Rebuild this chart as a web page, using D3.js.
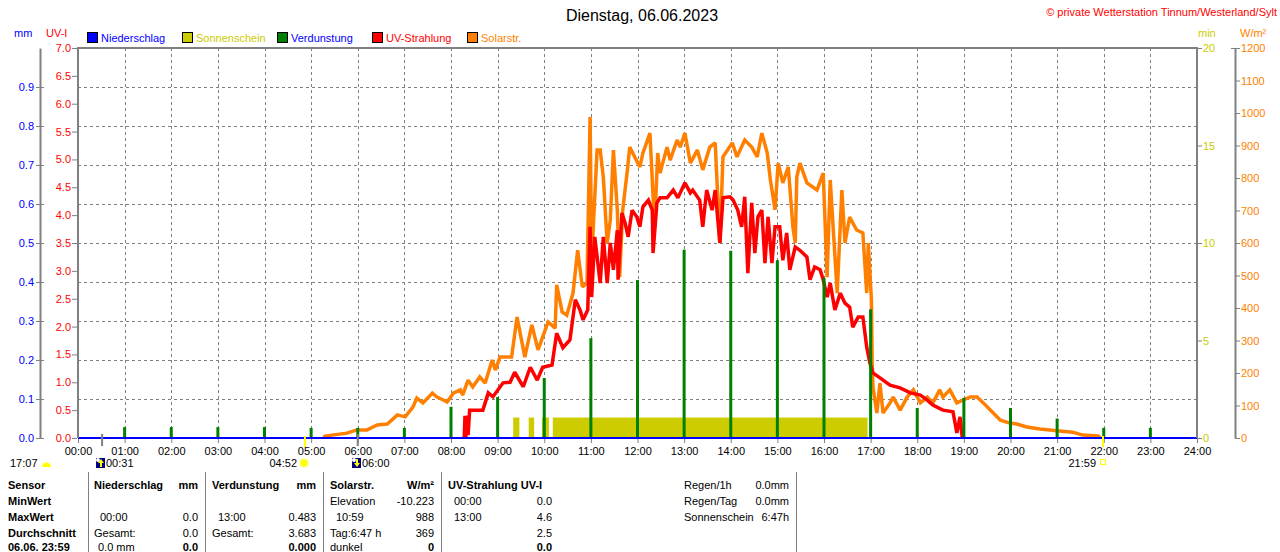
<!DOCTYPE html>
<html>
<head>
<meta charset="utf-8">
<script src="https://cdn.jsdelivr.net/npm/d3@7"></script>
<style>
  body { margin: 0; background: #fff; }
  svg text { font-family: "Liberation Sans", Arial, sans-serif; font-size: 11px; }
</style>
</head>
<body>
<div id="chart"></div>
<script>

// Stundenbeschriftung der x-Achse
const hourLabels = ["00:00","01:00","02:00","03:00","04:00","05:00","06:00","07:00","08:00",
  "09:00","10:00","11:00","12:00","13:00","14:00","15:00","16:00","17:00","18:00","19:00",
  "20:00","21:00","22:00","23:00","24:00"];

const mmTicks  = [0.0,0.1,0.2,0.3,0.4,0.5,0.6,0.7,0.8,0.9];
const uvTicks  = [0,0.5,1,1.5,2,2.5,3,3.5,4,4.5,5,5.5,6,6.5,7];
const minTicks = [0,5,10,15,20];
const solTicks = [0,100,200,300,400,500,600,700,800,900,1000,1100,1200];

// Niederschlag (mm) - ganzer Tag 0
const niedTime  = ["00:00","24:00"];
const niedValue = [0, 0];

// Sonnenschein (min) - Abschnitte mit Sonne
const sunStart = ["09:20","09:40","09:57","10:11"];
const sunEnd   = ["09:28","09:47","10:06","16:56"];
const sunValue = [1.05, 1.05, 1.05, 1.05];

// Verdunstung (mm) je Stunde
const verdTime  = ["01:00","02:00","03:00","04:00","05:00","06:00","07:00","08:00","09:00","10:00",
  "11:00","12:00","13:00","14:00","15:00","16:00","17:00","18:00","19:00","20:00","21:00","22:00","23:00"];
const verdValue = [0.028,0.028,0.028,0.028,0.026,0.026,0.026,0.080,0.105,0.154,
  0.256,0.405,0.483,0.480,0.456,0.410,0.330,0.077,0.103,0.077,0.050,0.026,0.026];

// UV-Strahlung (UV-I)
const uvTime = [
  "08:17","08:18","08:19","08:21","08:22","08:24","08:28","08:41","08:48","08:54",
  "09:07","09:16","09:22","09:33","09:42","09:51","09:58","10:10","10:16","10:24",
  "10:33","10:40","10:46","10:50","10:56","10:59","11:01","11:05","11:12","11:16",
  "11:21","11:25","11:29","11:34","11:35","11:40","11:44","11:48","11:53","11:59",
  "12:03","12:07","12:14","12:19","12:20","12:25","12:29","12:38","12:46","12:52",
  "13:01","13:08","13:11","13:20","13:24","13:29","13:36","13:40","13:46","13:50",
  "13:59","14:03","14:09","14:14","14:18","14:22","14:27","14:31","14:35","14:40",
  "14:44","14:48","14:53","14:57","15:03","15:07","15:12","15:16","15:23","15:29",
  "15:38","15:42","15:48","15:55","15:59","16:04","16:08","16:14","16:21","16:27",
  "16:33","16:37","16:44","16:50","16:55","16:59","17:03","17:12","17:25","17:38",
  "17:51","18:04","18:13","18:20","18:33","18:46","18:51","18:55","18:58"];
const uvValue = [
  0,0.4,0,0.4,0.05,0.5,0.5,0.5,0.81,0.74,
  0.99,1.0,1.18,0.92,1.27,1.04,1.27,1.31,1.88,1.62,
  1.76,2.48,2.30,2.12,2.30,3.79,2.53,3.61,2.78,3.61,
  2.78,3.50,3.02,3.73,2.84,4.04,3.86,3.61,4.09,3.97,
  3.79,4.15,4.27,4.09,3.32,4.22,4.31,4.31,4.45,4.31,
  4.58,4.40,4.45,4.27,3.79,4.45,4.09,4.45,3.50,4.31,
  4.33,4.27,4.09,3.79,4.33,2.96,4.22,3.32,3.97,4.09,
  3.14,3.97,3.14,3.79,3.79,3.19,3.68,3.02,3.43,3.37,
  3.25,2.84,3.07,3.02,2.84,2.53,2.78,2.30,2.60,2.42,
  2.35,1.99,2.17,2.17,1.63,1.35,1.17,1.08,0.95,0.90,
  0.81,0.77,0.68,0.59,0.50,0.47,0.09,0.38,0];

// Solarstrahlung (W/m²)
const solarTime = [
  "05:16","05:18","05:46","05:59","06:12","06:25","06:38","06:51","07:01","07:11",
  "07:16","07:24","07:36","07:42","07:50","07:55","08:03","08:12","08:15","08:22",
  "08:28","08:37","08:44","08:53","08:57","09:03","09:18","09:25","09:35","09:44",
  "09:52","09:58","10:05","10:14","10:16","10:23","10:29","10:37","10:43","10:49",
  "10:55","10:59","11:01","11:08","11:12","11:16","11:21","11:25","11:29","11:34",
  "11:37","11:41","11:47","11:50","12:03","12:07","12:16","12:22","12:26","12:29",
  "12:38","12:42","12:51","12:55","13:01","13:08","13:17","13:24","13:33","13:40",
  "13:46","13:50","14:02","14:08","14:18","14:27","14:34","14:40","14:47","14:51",
  "14:57","15:01","15:07","15:14","15:20","15:23","15:25","15:29","15:38","15:51",
  "15:59","16:04","16:08","16:17","16:23","16:27","16:33","16:42","16:50","16:55",
  "16:57","17:01","17:02","17:03","17:08","17:12","17:16","17:25","17:29","17:38",
  "17:47","17:55","18:04","18:13","18:20","18:29","18:33","18:42","18:51","18:59",
  "19:08","19:17","19:25","19:34","19:47","19:59","20:08","20:21","20:38","21:00",
  "21:20","21:33","21:53","21:56"];
const solarValue = [
  0,6,15,25,25,40,43,71,65,95,
  123,108,138,126,117,111,138,148,132,178,
  157,188,169,240,209,249,249,372,249,348,
  271,311,357,338,471,388,378,446,578,465,
  477,988,548,886,886,803,600,671,886,702,
  495,702,825,895,834,877,938,649,877,815,
  895,855,917,895,938,846,886,825,895,908,
  600,865,908,865,917,895,865,938,877,794,
  702,846,785,834,649,600,803,846,785,763,
  815,495,794,446,763,600,680,640,631,446,
  600,425,231,157,77,169,77,108,126,86,
  126,148,108,126,108,148,126,148,108,117,
  126,126,108,86,55,46,43,34,28,22,
  18,9,6,0];

// Sonnen- und Mondereignisse
const sunRise = "04:52", sunSet = "21:59";
const moonRise = "00:31", moonSet = "06:00";

// ---- Hilfsfunktion ----
const toMin = s => { const p = s.split(":"); return +p[0] * 60 + +p[1]; };

// ---- Zeichenfläche ----
const W = 1280, H = 552;
const plot = { left: 78, right: 1197, top: 48, bottom: 438 };

const svg = d3.select("#chart")
  .append("svg")
  .attr("width", W)
  .attr("height", H);

// Skalen
const x = d3.scaleLinear().domain([0, 1440]).range([plot.left, plot.right]);
const yMM  = d3.scaleLinear().domain([0, 1]).range([plot.bottom, plot.top]);
const yUV  = d3.scaleLinear().domain([0, 7]).range([plot.bottom, plot.top]);
const yMin = d3.scaleLinear().domain([0, 20]).range([plot.bottom, plot.top]);
const ySol = d3.scaleLinear().domain([0, 1200]).range([plot.bottom, plot.top]);

const grey = "#808080";

// Titel
svg.append("text")
  .attr("x", 642).attr("y", 21)
  .attr("text-anchor", "middle")
  .style("font-size", "16px")
  .text("Dienstag, 06.06.2023");

svg.append("text")
  .attr("x", 1277).attr("y", 16)
  .attr("text-anchor", "end")
  .attr("fill", "#FF0000")
  .text("\u00A9 private Wetterstation Tinnum/Westerland/Sylt");

// Achsentitel
svg.append("text").attr("x", 14).attr("y", 37).attr("fill", "#0000FF").text("mm");
svg.append("text").attr("x", 46).attr("y", 37).attr("fill", "#FF0000").text("UV-I");
svg.append("text").attr("x", 1198).attr("y", 37).attr("fill", "#CCCC00").text("min");
svg.append("text").attr("x", 1240).attr("y", 37).attr("fill", "#FF8000").text("W/m\u00B2");

// Legende
const legend = [
  { name: "Niederschlag", box: "#0000FF", txt: "#0000FF" },
  { name: "Sonnenschein", box: "#CCCC00", txt: "#CCCC00" },
  { name: "Verdunstung",  box: "#008000", txt: "#0000FF" },
  { name: "UV-Strahlung", box: "#FF0000", txt: "#FF0000" },
  { name: "Solarstr.",    box: "#FF8000", txt: "#FF8000" }
];
const lg = svg.append("g").selectAll("g").data(legend).join("g")
  .attr("transform", (d, i) => `translate(${87 + i * 95},32)`);
lg.append("rect").attr("x", 0.5).attr("y", 0.5).attr("width", 10).attr("height", 10)
  .attr("fill", d => d.box).attr("stroke", "#000");
lg.append("text").attr("x", 14).attr("y", 10).attr("fill", d => d.txt).text(d => d.name);

// Gitter
const grid = svg.append("g")
  .attr("stroke", grey).attr("stroke-dasharray", "3,3").attr("stroke-width", 1);
grid.selectAll("line.h").data(mmTicks.slice(1)).join("line").attr("class", "h")
  .attr("x1", plot.left).attr("x2", plot.right)
  .attr("y1", d => Math.round(yMM(d)) + 0.5).attr("y2", d => Math.round(yMM(d)) + 0.5);
grid.selectAll("line.v").data(hourLabels.slice(1, -1)).join("line").attr("class", "v")
  .attr("x1", d => Math.round(x(toMin(d))) + 0.5).attr("x2", d => Math.round(x(toMin(d))) + 0.5)
  .attr("y1", plot.top).attr("y2", plot.bottom);

// Sonnenschein
svg.append("g").selectAll("rect").data(sunStart).join("rect")
  .attr("x", d => x(toMin(d)))
  .attr("width", (d, i) => x(toMin(sunEnd[i])) - x(toMin(d)))
  .attr("y", (d, i) => yMin(sunValue[i]))
  .attr("height", (d, i) => yMin(0) - yMin(sunValue[i]))
  .attr("fill", "#CCCC00");

// Solarstrahlung
const solarData = solarTime.map((t, i) => ({ t: toMin(t), v: solarValue[i] }));
svg.append("path")
  .datum(solarData)
  .attr("d", d3.line().x(d => x(d.t)).y(d => ySol(d.v)))
  .attr("fill", "none")
  .attr("stroke", "#FF8000")
  .attr("stroke-width", 3.5)
  .attr("stroke-linejoin", "miter")
  .attr("stroke-miterlimit", 2);

// UV-Strahlung
const uvData = uvTime.map((t, i) => ({ t: toMin(t), v: uvValue[i] }));
svg.append("path")
  .datum(uvData)
  .attr("d", d3.line().x(d => x(d.t)).y(d => yUV(d.v)))
  .attr("fill", "none")
  .attr("stroke", "#FF0000")
  .attr("stroke-width", 3.5)
  .attr("stroke-linejoin", "miter")
  .attr("stroke-miterlimit", 2);

// Verdunstung
svg.append("g").selectAll("rect").data(verdTime).join("rect")
  .attr("x", d => x(toMin(d)) - 1.5)
  .attr("width", 3)
  .attr("y", (d, i) => yMM(verdValue[i]))
  .attr("height", (d, i) => yMM(0) - yMM(verdValue[i]))
  .attr("fill", "#008000");

// Niederschlag
const niedData = niedTime.map((t, i) => ({ t: toMin(t), v: niedValue[i] }));
svg.append("path")
  .datum(niedData)
  .attr("d", d3.line().x(d => x(d.t)).y(d => yMM(d.v)))
  .attr("fill", "none")
  .attr("stroke", "#0000FF")
  .attr("stroke-width", 2);

// Rahmen (oben, links, rechts)
svg.append("path")
  .attr("d", `M${plot.left},${plot.bottom}V${plot.top}H${plot.right}V${plot.bottom}`)
  .attr("fill", "none").attr("stroke", grey).attr("stroke-width", 2);

// Achsen
function styleAxis(g, color) {
  g.selectAll("text").attr("fill", color).style("font-size", "11px");
  g.selectAll(".tick line").attr("stroke", grey);
  g.select(".domain").attr("stroke", grey).attr("stroke-width", 2);
}

// mm-Achse
const mmAxis = svg.append("g")
  .attr("transform", "translate(40,0)")
  .call(d3.axisLeft(yMM).tickValues(mmTicks).tickFormat(d3.format(".1f"))
    .tickSize(4).tickSizeOuter(0).tickPadding(2));
styleAxis(mmAxis, "#0000FF");
mmAxis.selectAll(".tick line").attr("x1", 4);

// UV-Achse
const uvAxis = svg.append("g")
  .attr("transform", `translate(${plot.left - 1},0)`)
  .call(d3.axisLeft(yUV).tickValues(uvTicks).tickFormat(d3.format(".1f"))
    .tickSize(5).tickSizeOuter(0).tickPadding(1));
styleAxis(uvAxis, "#FF0000");
uvAxis.select(".domain").remove();

// min-Achse
const minAxis = svg.append("g")
  .attr("transform", `translate(${plot.right},0)`)
  .call(d3.axisRight(yMin).tickValues(minTicks).tickFormat(d3.format("d"))
    .tickSize(5).tickSizeOuter(0).tickPadding(1));
styleAxis(minAxis, "#CCCC00");
minAxis.select(".domain").remove();

// W/m²-Achse
const solAxis = svg.append("g")
  .attr("transform", "translate(1235,0)")
  .call(d3.axisRight(ySol).tickValues(solTicks).tickFormat(d3.format("d"))
    .tickSize(5).tickSizeOuter(0).tickPadding(1));
styleAxis(solAxis, "#FF8000");
solAxis.select(".tick:last-of-type line").attr("x1", -4);

// Zeitachse
const xAxis = svg.append("g")
  .attr("transform", `translate(0,${plot.bottom + 1})`)
  .call(d3.axisBottom(x).tickValues(hourLabels.map(toMin))
    .tickFormat((d, i) => hourLabels[i]).tickSize(4).tickSizeOuter(0).tickPadding(4));
styleAxis(xAxis, "#000");
xAxis.select(".domain").remove();

// Sonnen-/Mondmarken an der Zeitachse
svg.append("g").selectAll("line").data([moonRise, moonSet]).join("line")
  .attr("x1", d => x(toMin(d))).attr("x2", d => x(toMin(d)))
  .attr("y1", 434).attr("y2", 446)
  .attr("stroke", grey).attr("stroke-width", 2);
svg.append("g").selectAll("line").data([sunRise, sunSet]).join("line")
  .attr("x1", d => x(toMin(d))).attr("x2", d => x(toMin(d)))
  .attr("y1", 436).attr("y2", 447)
  .attr("stroke", "#FFFF00").attr("stroke-width", 2);

// Beschriftung unter der Zeitachse
const ev = svg.append("g");
ev.append("text").attr("x", 10).attr("y", 467).text("17:07");
ev.append("path").attr("d", "M42,467 A4.5,4.5 0 0 1 51,467 Z").attr("fill", "#FFFF00");

function moonIcon(px, up) {
  ev.append("rect").attr("x", px).attr("y", 458).attr("width", 9).attr("height", 10).attr("fill", "#000080");
  ev.append("circle").attr("cx", px + 2).attr("cy", 460).attr("r", 2).attr("fill", "#fff");
  ev.append("path")
    .attr("d", up ? `M${px + 5},459 l-3,4 h2 v4 h2 v-4 h2 Z` : `M${px + 5},467 l-3,-4 h2 v-4 h2 v4 h2 Z`)
    .attr("fill", "#FFFF00");
}
moonIcon(96, true);
ev.append("text").attr("x", 106).attr("y", 467).text(moonRise);

ev.append("text").attr("x", 297).attr("y", 467).attr("text-anchor", "end").text(sunRise);
ev.append("circle").attr("cx", 304).attr("cy", 463).attr("r", 4).attr("fill", "#FFFF00")
  .attr("stroke", "#FFFF80").attr("stroke-width", 2).attr("stroke-dasharray", "1,1");

moonIcon(352, false);
ev.append("text").attr("x", 362).attr("y", 467).text(moonSet);

ev.append("text").attr("x", 1096).attr("y", 467).attr("text-anchor", "end").text(sunSet);
ev.append("rect").attr("x", 1100.5).attr("y", 459.5).attr("width", 5).attr("height", 5)
  .attr("fill", "none").attr("stroke", "#FFFF00");

// ---- Tabelle ----
const table = svg.append("g");
const rowY = [489, 505, 521, 537, 551];

[88, 205, 323, 441, 796].forEach(px => {
  table.append("line").attr("x1", px + 0.5).attr("x2", px + 0.5)
    .attr("y1", 472).attr("y2", H).attr("stroke", grey);
});

const cells = [
  // [x, Zeile, Text, fett, Ausrichtung]
  [8, 0, "Sensor", true], [8, 1, "MinWert", true], [8, 2, "MaxWert", true],
  [8, 3, "Durchschnitt", true], [8, 4, "06.06. 23:59", true],

  [94, 0, "Niederschlag", true], [198, 0, "mm", true, "end"],
  [100, 2, "00:00"], [198, 2, "0.0", false, "end"],
  [94, 3, "Gesamt:"], [198, 3, "0.0", false, "end"],
  [98, 4, "0.0 mm"], [198, 4, "0.0", true, "end"],

  [212, 0, "Verdunstung", true], [316, 0, "mm", true, "end"],
  [218, 2, "13:00"], [316, 2, "0.483", false, "end"],
  [212, 3, "Gesamt:"], [316, 3, "3.683", false, "end"],
  [316, 4, "0.000", true, "end"],

  [330, 0, "Solarstr.", true], [434, 0, "W/m\u00B2", true, "end"],
  [330, 1, "Elevation"], [434, 1, "-10.223", false, "end"],
  [336, 2, "10:59"], [434, 2, "988", false, "end"],
  [330, 3, "Tag:6:47 h"], [434, 3, "369", false, "end"],
  [330, 4, "dunkel"], [434, 4, "0", true, "end"],

  [448, 0, "UV-Strahlung UV-I", true],
  [454, 1, "00:00"], [552, 1, "0.0", false, "end"],
  [454, 2, "13:00"], [552, 2, "4.6", false, "end"],
  [552, 3, "2.5", false, "end"],
  [552, 4, "0.0", true, "end"],

  [684, 0, "Regen/1h"], [789, 0, "0.0mm", false, "end"],
  [684, 1, "Regen/Tag"], [789, 1, "0.0mm", false, "end"],
  [684, 2, "Sonnenschein"], [789, 2, "6:47h", false, "end"]
];

table.selectAll("text").data(cells).join("text")
  .attr("x", d => d[0])
  .attr("y", d => rowY[d[1]])
  .attr("text-anchor", d => d[4] || "start")
  .style("font-weight", d => d[3] ? "bold" : "normal")
  .text(d => d[2]);
</script>
</body>
</html>
